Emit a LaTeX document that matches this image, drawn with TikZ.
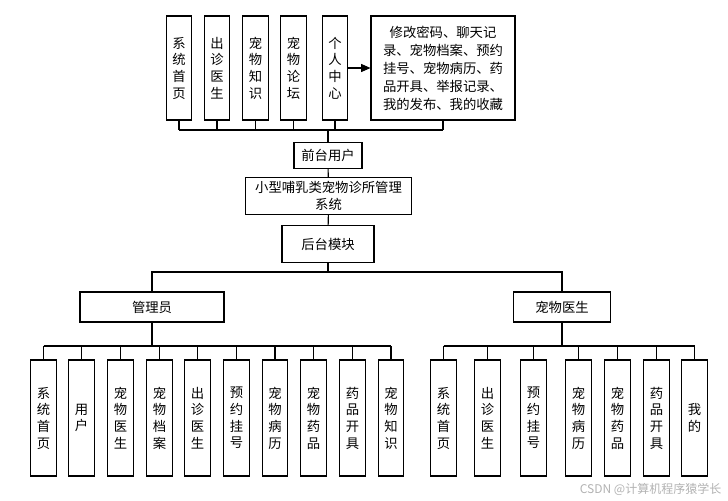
\documentclass[tikz,border=0pt]{standalone}
\usepackage{fontspec}
\newfontfamily\cjk{Noto Sans CJK SC}
\usetikzlibrary{arrows.meta}
\tikzset{
  box/.style={draw, thick, font=\cjk\fontsize{10}{12.5}\selectfont, align=center, inner sep=1pt},
  vbox/.style={box, minimum width=19pt, minimum height=78pt},
  leaf/.style={box, minimum width=19pt, minimum height=87pt},
  link/.style={thick}
}
\begin{document}
\begin{tikzpicture}[x=0.75pt, y=-0.75pt]
    \useasboundingbox (0,0) rectangle (728,500);
    % front end
    \node[vbox] (f1) at (179,68) {系\\统\\首\\页};
    \node[vbox] (f2) at (217,68) {出\\诊\\医\\生};
    \node[vbox] (f3) at (255.5,68) {宠\\物\\知\\识};
    \node[vbox] (f4) at (293.5,68) {宠\\物\\论\\坛};
    \node[vbox] (f5) at (335,68) {个\\人\\中\\心};
    \node[box, minimum width=108pt, minimum height=78pt, font=\cjk\fontsize{10}{13.5}\selectfont] (fm) at (443,68)
        {修改密码、聊天记\\录、宠物档案、预约\\挂号、宠物病历、药\\品开具、举报记录、\\我的发布、我的收藏};
    \node[box, minimum width=51pt, minimum height=19pt] (user) at (328,155.5) {前台用户};
    \node[box, minimum width=125pt, minimum height=28pt] (sys) at (328.5,196) {小型哺乳类宠物诊所管理\\系统};
    \node[box, minimum width=69pt, minimum height=28pt] (back) at (328,244) {后台模块};
    \coordinate (fbus) at (0,130);
    \foreach \n in {f1,f2,f3,f4,f5,fm}
        \draw[link] (\n.south) -- (\n.south |- fbus);
    \draw[link] (f1.south |- fbus) -- (fm.south |- fbus);
    \draw[link] (user.north |- fbus) -- (user.north);
    \draw[link, -{Triangle[length=7pt,width=6pt]}] (f5.east) -- (fm.west);
    \draw[link] (user) -- (sys);
    \draw[link] (sys) -- (back);
    % back end
    \node[box, minimum width=108pt, minimum height=22.5pt] (adm) at (152,307) {管理员};
    \node[box, minimum width=73pt, minimum height=22.5pt] (doc) at (562,307) {宠物医生};
    \coordinate (bbus) at (0,272);
    \draw[link] (back) -- (back |- bbus);
    \draw[link] (adm.north) -- (adm.north |- bbus) -- (doc.north |- bbus) -- (doc.north);
    \coordinate (lbus) at (0,346);
    \foreach \x/\t [count=\i] in {43.5/系\\统\\首\\页, 81.5/用\\户, 120.5/宠\\物\\医\\生, 159.5/宠\\物\\档\\案,
        197.5/出\\诊\\医\\生, 236.5/预\\约\\挂\\号, 275/宠\\物\\病\\历, 313.5/宠\\物\\药\\品,
        352.5/药\\品\\开\\具, 391/宠\\物\\知\\识}
    {
        \node[leaf] (a\i) at (\x,418) {\t};
        \draw[link] (a\i.north) -- (a\i.north |- lbus);
    }
    \draw[link] (a1.north |- lbus) -- (a10.north |- lbus);
    \draw[link] (adm.south) -- (adm.south |- lbus);
    \foreach \x/\t [count=\i] in {443.5/系\\统\\首\\页, 487.5/出\\诊\\医\\生, 533.5/预\\约\\挂\\号,
        578.5/宠\\物\\病\\历, 617.5/宠\\物\\药\\品, 656.5/药\\品\\开\\具, 694.5/我\\的}
    {
        \node[leaf] (d\i) at (\x,418) {\t};
        \draw[link] (d\i.north) -- (d\i.north |- lbus);
    }
    \draw[link] (d1.north |- lbus) -- (d7.north |- lbus);
    \draw[link] (doc.south) -- (doc.south |- lbus);
    \node[font=\cjk\fontsize{9}{10}\selectfont, text=gray!60, anchor=east] (mark) at (726,489) {CSDN @计算机程序猿学长};
\end{tikzpicture}
\end{document}
